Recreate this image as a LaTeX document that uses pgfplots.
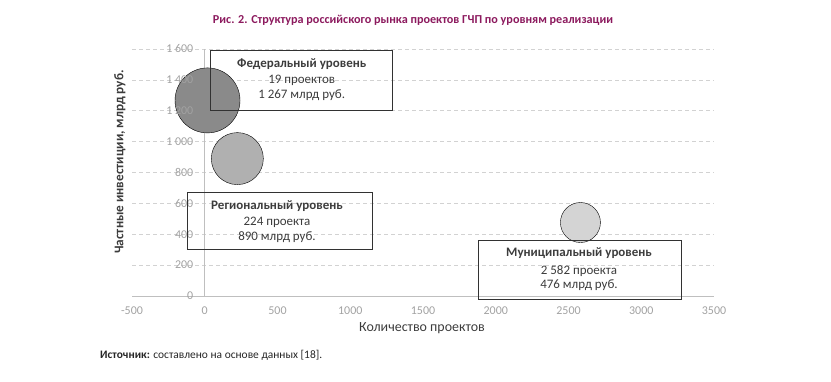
\documentclass[border=0pt]{standalone}
\usepackage{fontspec}
\setmainfont{Carlito}
\usepackage{graphicx}
\usepackage{pgfplots}
\pgfplotsset{compat=1.18}
\definecolor{titlec}{RGB}{140,26,94}
\definecolor{tickc}{RGB}{162,162,162}
\definecolor{gridc}{RGB}{210,210,210}
\definecolor{axc}{RGB}{191,191,191}
\definecolor{txtc}{RGB}{60,60,60}
\definecolor{fed}{RGB}{138,138,138}
\definecolor{reg}{RGB}{176,176,176}
\definecolor{mun}{RGB}{212,212,212}
\definecolor{boxc}{RGB}{50,50,50}
\pgfplotsset{
  base/.style={
    at={(132bp,85bp)}, anchor=south west, scale only axis,
    width=582bp, height=247bp,
    xmin=-500, xmax=3500, ymin=0, ymax=1600, enlargelimits=false,
    axis lines=middle, axis line style={draw=none,-},
    hide obscured x ticks=false, hide obscured y ticks=false,
    major tick length=0pt, clip=false,
  }
}

\begin{document}
\begin{tikzpicture}[x=1bp,y=1bp]
\useasboundingbox (0,0) rectangle (831,381);
\begin{axis}[
  base,
  xtick=\empty, ytick={0,200,...,1600}, yticklabels={},
  ymajorgrids, grid style={gridc, dash pattern=on 4bp off 3bp, line width=0.7bp},
]
\draw[axc, line width=0.8bp] (axis cs:-500,0) -- (axis cs:3500,0);
\draw[axc, line width=0.8bp] (axis cs:0,0) -- (axis cs:0,1600);
\addplot[only marks, mark=*, mark size=32.5bp, mark options={fill=fed, draw=none}] coordinates {(19,1267)};
\addplot[only marks, mark=*, mark size=26bp, mark options={fill=reg, draw=none}] coordinates {(224,890)};
\addplot[only marks, mark=*, mark size=20bp, mark options={fill=mun, draw=none}] coordinates {(2582,476)};
\end{axis}
\begin{axis}[
  base,
  xtick={-500,0,...,3500}, ytick={0,200,...,1600},
  xticklabels={-500,0,500,1000,1500,2000,2500,3000,3500},
  yticklabels={0,200,400,600,800,1 000,1 200,1 400,1 600},
  tick label style={font=\fontsize{12}{14}\selectfont, text=tickc},
  xticklabel style={anchor=north, yshift=-7bp},
  yticklabel style={anchor=east, xshift=-8bp},
]
\end{axis}

% boxes
\draw[boxc, line width=0.9bp] (210,331) rectangle (392,271);
\draw[boxc, line width=0.9bp] (187,189) rectangle (372.7,132);
\draw[boxc, line width=0.9bp] (478.3,140.3) rectangle (681,82);

\begin{scope}[every node/.style={text=txtc, font=\fontsize{13}{15}\selectfont}]
\node[font=\fontsize{13}{15}\selectfont\bfseries] at (301.7,317) {Федеральный уровень};
\node at (301.7,300.3) {19 проектов};
\node at (301.7,285.7) {1 267 млрд руб.};

\node[font=\fontsize{13}{15}\selectfont\bfseries] at (277,175) {Региональный уровень};
\node at (277,159) {224 проекта};
\node at (277,144.3) {890 млрд руб.};

\node[font=\fontsize{13}{15}\selectfont\bfseries] at (579,127.7) {Муниципальный уровень};
\node at (579,110.3) {2 582 проекта};
\node at (579,95.7) {476 млрд руб.};
\end{scope}

% axis titles
\node[text=txtc, font=\fontsize{14}{16}\selectfont] at (422,53) {Количество проектов};
\node[rotate=90, text=txtc, font=\fontsize{13.3}{15}\selectfont\bfseries] at (120,219) {Частные инвестиции, млрд руб.};

% title
\node[text=titlec] at (413,361) {\resizebox{400bp}{!}{\bfseries Рис. 2. Структура российского рынка проектов ГЧП по уровням реализации}};

% source
\node[anchor=west, inner sep=0pt, text=black!85] at (100,26) {\resizebox{222bp}{!}{\textbf{Источник:} составлено на основе данных [18].}};
\end{tikzpicture}
\end{document}
